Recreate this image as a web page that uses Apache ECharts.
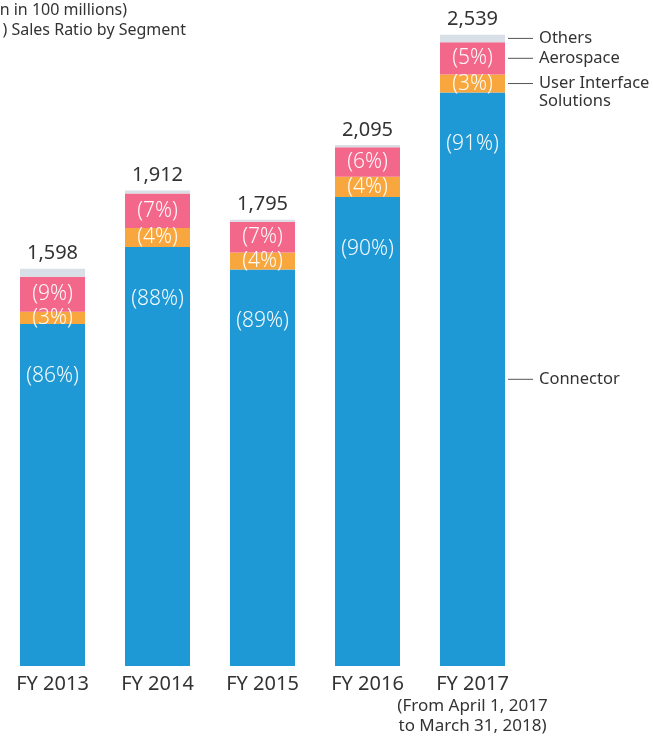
<!DOCTYPE html>
<html><head><meta charset="utf-8">
<script src="https://cdn.jsdelivr.net/npm/echarts@6/dist/echarts.min.js"></script>
<style>html,body{margin:0;padding:0;background:#fff}#c{width:653px;height:738px}</style>
</head><body><div id="c"></div>
<script>
const categories = ['FY 2013','FY 2014','FY 2015','FY 2016','FY 2017'];
const totals = [1598, 1912, 1795, 2095, 2539];
const connector = [1375, 1685, 1595, 1886, 2306];
const uiSolutions = [50, 77, 68, 82, 73];
const aerospace = [140, 138, 124, 118, 130];
const others = [33, 12, 8, 9, 30];
const connectorPct = [86, 88, 89, 90, 91];
const uiPct = [3, 4, 4, 4, 3];
const aeroPct = [9, 7, 7, 6, 5];
const segmentNames = ['Connector', 'User Interface\nSolutions', 'Aerospace', 'Others'];

const FONT = '"Noto Sans", sans-serif';
const chart = echarts.init(document.getElementById('c'));
const pctLabel = (arr, pos, dist) => ({
  show: true, position: pos, distance: dist, color: 'rgba(255,255,255,0.95)',
  fontFamily: FONT, fontSize: 21, fontWeight: 300,
  formatter: p => '(' + arr[p.dataIndex] + '%)'
});
const BW = 65;
chart.setOption({
  animation: false,
  grid: { left: 0, width: 525, top: 22, bottom: 72, containLabel: false },
  xAxis: {
    type: 'category', data: categories,
    axisLine: { show: false }, axisTick: { show: false },
    axisLabel: {
      margin: 7, color: '#333', fontFamily: FONT, fontSize: 20, interval: 0,
      formatter: (v, i) => i === 4 ? '{a|' + v + '}\n{b|(From April 1, 2017}\n{b|to March 31, 2018)}' : '{a|' + v + '}',
      rich: {
        a: { fontFamily: FONT, fontSize: 20, color: '#333', lineHeight: 23 },
        b: { fontFamily: FONT, fontSize: 17, color: '#333', lineHeight: 20 }
      }
    }
  },
  yAxis: { type: 'value', min: 0, max: 2590, show: false, splitLine: { show: false } },
  series: [
    { name: 'Connector', type: 'bar', stack: 's', barWidth: BW, data: connector,
      itemStyle: { color: '#1E99D5' }, label: pctLabel(connectorPct, 'insideTop', 41) },
    { name: 'User Interface Solutions', type: 'bar', stack: 's', barWidth: BW, data: uiSolutions,
      itemStyle: { color: '#F8A73F' }, label: pctLabel(uiPct, 'inside', 0) },
    { name: 'Aerospace', type: 'bar', stack: 's', barWidth: BW, data: aerospace,
      itemStyle: { color: '#F2678A' }, label: pctLabel(aeroPct, 'inside', 0) },
    { name: 'Others', type: 'bar', stack: 's', barWidth: BW, data: others,
      itemStyle: { color: '#D9DFE6' },
      label: { show: true, position: 'top', distance: 5, color: '#333', fontFamily: FONT, fontSize: 20,
        formatter: p => totals[p.dataIndex].toLocaleString('en-US') } }
  ]
});

// annotations for last bar segments
const last = categories.length - 1;
const segs = [connector, uiSolutions, aerospace, others];
let base = 0;
const elements = [];
segs.forEach((arr, k) => {
  const mid = base + arr[last] / 2;
  base += arr[last];
  const pt = chart.convertToPixel({ gridIndex: 0 }, [last, mid]);
  const x0 = pt[0] + BW / 2 + 3;
  elements.push({ type: 'line', shape: { x1: x0, y1: pt[1], x2: x0 + 25, y2: pt[1] },
    style: { stroke: '#555', lineWidth: 1 } });
  elements.push({ type: 'text', x: x0 + 31, y: pt[1], style: {
    text: segmentNames[k], fill: '#333', font: '16.5px ' + FONT,
    verticalAlign: 'top', textAlign: 'left', lineHeight: 18,
    y: -9 } });
});
elements.push({ type: 'text', x: 127, y: 10, style: { text: '(Yen in 100 millions)', fill: '#333',
  font: '16px ' + FONT, textAlign: 'right', verticalAlign: 'middle' } });
elements.push({ type: 'text', x: 186, y: 30, style: { text: '(    ) Sales Ratio by Segment', fill: '#333',
  font: '16px ' + FONT, textAlign: 'right', verticalAlign: 'middle' } });
chart.setOption({ graphic: { elements } });
</script></body></html>
